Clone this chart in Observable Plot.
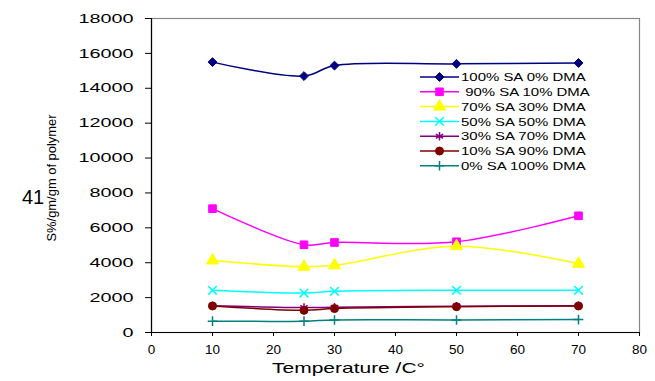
<!DOCTYPE html>
<html><head><meta charset="utf-8">
<script src="https://cdn.jsdelivr.net/npm/d3@7"></script>
<script src="https://cdn.jsdelivr.net/npm/@observablehq/plot@0.6"></script>
<style>body{margin:0;background:#fff;} #chart{position:relative;width:655px;height:381px;}</style>
</head><body><div id="chart"></div>
<script>
const temps = [10, 25, 30, 50, 70];
const seriesNames = ["100% SA 0% DMA", " 90% SA 10% DMA", "70% SA 30% DMA", "50% SA 50% DMA", "30% SA 70% DMA", "10% SA 90% DMA", "0% SA 100% DMA"];
const s100 = [15500, 14700, 15300, 15400, 15450];
const s90 = [7100, 5030, 5160, 5200, 6690];
const s70 = [4130, 3770, 3850, 4950, 3940];
const s50 = [2420, 2260, 2360, 2420, 2420];
const s30 = [1540, 1430, 1450, 1500, 1540];
const s10 = [1520, 1270, 1370, 1480, 1520];
const s0 = [650, 650, 720, 720, 740];
const xTicks = [0, 10, 20, 30, 40, 50, 60, 70, 80];
const yTicks = [0, 2000, 4000, 6000, 8000, 10000, 12000, 14000, 16000, 18000];

const allValues = [s100, s90, s70, s50, s30, s10, s0];
const styles = [
  {color: "#000080", symbol: "diamond2", filled: true, r: 4},
  {color: "#FF00FF", symbol: "square", filled: true, r: 4.3},
  {color: "#FFFF00", symbol: "triangle", filled: true, r: 4.5},
  {color: "#00FFFF", symbol: "times", filled: false, r: 4},
  {color: "#800080", symbol: "asterisk", filled: false, r: 4},
  {color: "#800000", symbol: "circle", filled: true, r: 4},
  {color: "#008080", symbol: "plus", filled: false, r: 3.2}
];
const data = seriesNames.map((name, i) => temps.map((t, j) => ({series: name, t, v: allValues[i][j]})));

const marks = [
  Plot.frame({stroke: "#888", strokeWidth: 1.2}),
  Plot.ruleX([0], {stroke: "#000", strokeWidth: 1.2}),
  Plot.ruleY([0], {stroke: "#000", strokeWidth: 1.2}),
  Plot.axisX({ticks: xTicks, tickSize: 4, tickPadding: 8, label: null, fontSize: 13.5}),
  Plot.axisY({ticks: yTicks, tickSize: 6, tickPadding: 12, label: null, tickFormat: d => String(d), fontSize: 13})
];
data.forEach((d, i) => {
  const s = styles[i];
  marks.push(Plot.line(d, {x: "t", y: "v", stroke: s.color, strokeWidth: 1.5, curve: "catmull-rom"}));
  marks.push(Plot.dot(d, {x: "t", y: "v", symbol: () => s.symbol, r: s.r,
    fill: s.filled ? s.color : "none", stroke: s.color, strokeWidth: s.filled ? 1 : 1.5}));
});

const plot = Plot.plot({
  width: 655, height: 381,
  marginLeft: 151, marginRight: 16, marginTop: 18, marginBottom: 49,
  style: {fontFamily: "Arial, 'Liberation Sans', sans-serif", fontSize: "13px", background: "#fff", color: "#000"},
  x: {domain: [0, 80]},
  y: {domain: [0, 18000]},
  symbol: {type: "identity"},
  marks
});
document.getElementById("chart").appendChild(plot);

const svg = d3.select(plot);
// widen y tick labels as in the reference
svg.selectAll('g[aria-label="y-axis tick label"] text').each(function() {
  const n = this.textContent.length;
  d3.select(this).attr("textLength", n * 11).attr("lengthAdjust", "spacingAndGlyphs");
});
const stretch = (sel, k) => sel.each(function() {
  const w = this.getComputedTextLength();
  d3.select(this).attr("textLength", w * k).attr("lengthAdjust", "spacingAndGlyphs");
});
const font = "Arial, 'Liberation Sans', sans-serif";
svg.append("text").attr("x", 272).attr("y", 373).attr("text-anchor", "start")
  .attr("font-family", font).attr("font-size", 15).attr("fill", "#000")
  .attr("textLength", 153).attr("lengthAdjust", "spacingAndGlyphs").text("Temperature /C°");
svg.append("text").attr("transform", "translate(56,178) rotate(-90)").attr("text-anchor", "middle")
  .attr("font-family", font).attr("font-size", 13.5).attr("fill", "#000")
  .attr("textLength", 127).attr("lengthAdjust", "spacingAndGlyphs").text("S%/gm/gm of polymer");
svg.append("text").attr("x", 33).attr("y", 204).attr("text-anchor", "middle")
  .attr("font-family", font).attr("font-size", 20).attr("fill", "#000").text("41");

// legend
const lg = svg.append("g");
const sym = {diamond2: d3.symbolDiamond2, square: d3.symbolSquare, triangle: d3.symbolTriangle,
  times: d3.symbolTimes, asterisk: d3.symbolAsterisk, circle: d3.symbolCircle, plus: d3.symbolPlus};
seriesNames.forEach((name, i) => {
  const s = styles[i];
  const y = 77 + i * 14.8;
  lg.append("path").attr("d", `M420,${y}H459`).attr("fill", "none")
    .attr("stroke", s.color).attr("stroke-width", 1.5);
  lg.append("path").attr("transform", `translate(439.5,${y})`)
    .attr("d", d3.symbol(sym[s.symbol], Math.PI * s.r * s.r)())
    .attr("fill", s.filled ? s.color : "none").attr("stroke", s.color).attr("stroke-width", s.filled ? 1 : 1.5);
  const t = lg.append("text").attr("x", 461).attr("y", y).attr("dy", "0.36em").attr("text-anchor", "start")
    .attr("font-family", font).attr("font-size", 11.5).attr("fill", "#000")
    .attr("xml:space", "preserve").style("white-space", "pre").text(name);
  stretch(t, 1.3);
});
</script></body></html>
